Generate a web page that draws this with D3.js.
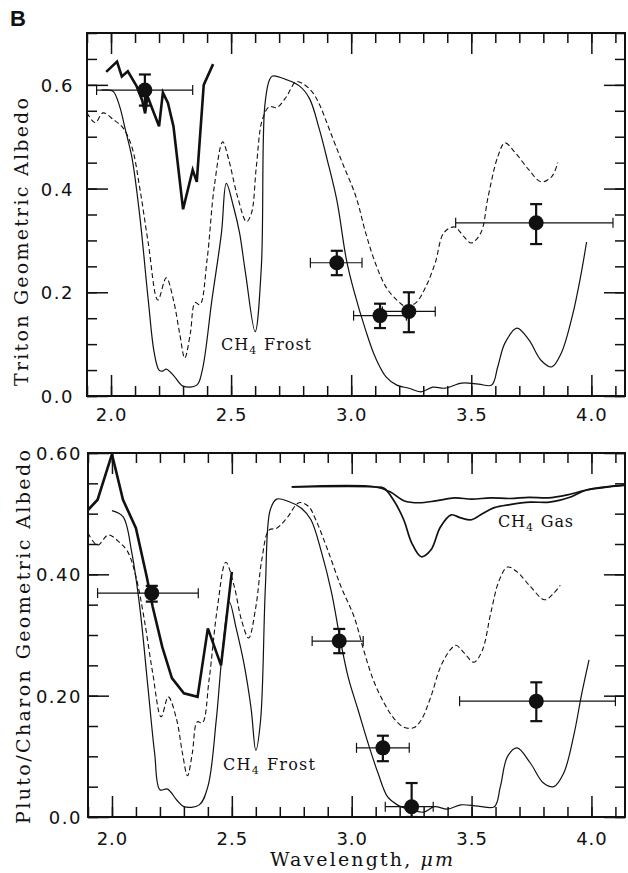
<!DOCTYPE html>
<html>
  <head>
    <meta charset="UTF-8">
    <style>
      body { margin: 0; background: #fff; }
      svg text { fill: #111; }
    </style>
  </head>
  <body>
    <svg width="628" height="873" id="svgid"></svg>

    <script src="https://cdnjs.cloudflare.com/ajax/libs/d3/7.8.5/d3.min.js"></script>
    <script>
      // wavelength (um), albedo pairs
      var tritonObs = [[1.98,0.625],[2.025,0.645],[2.045,0.616],[2.07,0.626],[2.107,0.597],[2.13,0.57],[2.142,0.545],
        [2.152,0.578],[2.175,0.55],[2.2,0.52],[2.216,0.585],[2.237,0.565],[2.26,0.52],[2.3,0.36],[2.34,0.436],
        [2.357,0.413],[2.386,0.60],[2.425,0.64]];
      var tritonFrost = [[1.96,0.59],[1.99,0.59],[2.01,0.587],[2.035,0.56],[2.06,0.513],[2.087,0.46],[2.12,0.346],
        [2.155,0.185],[2.18,0.083],[2.2,0.05],[2.215,0.048],[2.23,0.052],[2.265,0.037],[2.3,0.019],[2.357,0.021],
        [2.38,0.05],[2.42,0.185],[2.46,0.315],[2.48,0.41],[2.51,0.365],[2.535,0.315],[2.56,0.237],[2.6,0.124],
        [2.626,0.25],[2.64,0.558],[2.66,0.61],[2.673,0.617],[2.73,0.61],[2.784,0.598],[2.826,0.574],[2.867,0.515],
        [2.9,0.456],[2.94,0.378],[2.98,0.263],[3.01,0.205],[3.06,0.127],[3.1,0.075],[3.145,0.037],[3.19,0.021],
        [3.24,0.015],[3.29,0.008],[3.34,0.017],[3.39,0.015],[3.46,0.025],[3.53,0.023],[3.585,0.021],[3.61,0.056],
        [3.64,0.102],[3.69,0.131],[3.74,0.108],[3.79,0.069],[3.835,0.056],[3.875,0.083],[3.92,0.153],[3.955,0.23],
        [3.98,0.297]];
      var tritonDashed = [[1.9,0.546],[1.934,0.527],[1.967,0.546],[2.01,0.533],[2.05,0.517],[2.087,0.48],[2.12,0.40],
        [2.155,0.295],[2.195,0.185],[2.23,0.228],[2.26,0.185],[2.286,0.12],[2.307,0.073],[2.33,0.12],[2.35,0.18],
        [2.37,0.176],[2.4,0.263],[2.43,0.404],[2.465,0.49],[2.49,0.456],[2.527,0.384],[2.564,0.336],[2.585,0.353],
        [2.605,0.442],[2.63,0.533],[2.66,0.558],[2.69,0.556],[2.73,0.577],[2.77,0.606],[2.8,0.602],[2.84,0.585],
        [2.87,0.56],[2.91,0.513],[2.963,0.45],[3.02,0.384],[3.06,0.315],[3.1,0.257],[3.145,0.21],[3.19,0.185],
        [3.23,0.172],[3.27,0.18],[3.31,0.21],[3.35,0.257],[3.386,0.315],[3.43,0.326],[3.47,0.307],[3.5,0.295],
        [3.54,0.315],[3.57,0.384],[3.61,0.461],[3.64,0.488],[3.68,0.471],[3.74,0.436],[3.79,0.413],[3.835,0.423],
        [3.86,0.45]];
      // points: wavelength, albedo, albedo low/high, wavelength low/high
      var tritonPoints = [[2.141,0.59,0.56,0.62,1.94,2.34],[2.94,0.257,0.233,0.28,2.83,3.045],
        [3.12,0.155,0.131,0.178,3.01,3.23],[3.24,0.163,0.123,0.2,3.13,3.35],[3.77,0.334,0.293,0.37,3.435,4.09]];

      var plutoObs = [[1.9,0.506],[1.94,0.523],[2.0,0.598],[2.046,0.523],[2.1,0.476],[2.145,0.396],[2.17,0.346],
        [2.21,0.28],[2.25,0.229],[2.3,0.204],[2.357,0.198],[2.40,0.311],[2.455,0.25],[2.5,0.404]];
      var plutoFrost = [[2.0,0.505],[2.046,0.495],[2.083,0.435],[2.116,0.346],[2.15,0.214],[2.178,0.105],[2.2,0.045],
        [2.232,0.046],[2.27,0.028],[2.3,0.017],[2.364,0.02],[2.40,0.05],[2.435,0.16],[2.46,0.27],[2.49,0.354],
        [2.517,0.313],[2.55,0.254],[2.58,0.18],[2.6,0.11],[2.62,0.16],[2.64,0.38],[2.66,0.506],[2.687,0.524],
        [2.737,0.52],[2.79,0.509],[2.83,0.49],[2.875,0.435],[2.916,0.37],[2.95,0.297],[2.985,0.231],[3.027,0.176],
        [3.068,0.122],[3.11,0.072],[3.15,0.033],[3.19,0.02],[3.245,0.012],[3.3,0.008],[3.345,0.017],[3.4,0.013],
        [3.455,0.02],[3.525,0.018],[3.595,0.017],[3.62,0.05],[3.65,0.1],[3.69,0.114],[3.745,0.089],[3.8,0.056],
        [3.843,0.05],[3.884,0.072],[3.925,0.132],[3.96,0.204],[3.99,0.259]];
      var plutoDashed = [[1.9,0.468],[1.94,0.448],[1.985,0.465],[2.033,0.452],[2.066,0.437],[2.1,0.396],[2.135,0.325],
        [2.17,0.237],[2.205,0.165],[2.235,0.198],[2.27,0.16],[2.294,0.105],[2.315,0.068],[2.335,0.105],[2.356,0.157],
        [2.377,0.155],[2.405,0.226],[2.44,0.346],[2.475,0.42],[2.51,0.38],[2.54,0.325],[2.57,0.295],[2.6,0.346],
        [2.625,0.424],[2.655,0.473],[2.687,0.476],[2.73,0.493],[2.78,0.518],[2.82,0.512],[2.85,0.49],[2.9,0.44],
        [2.955,0.38],[3.01,0.33],[3.05,0.275],[3.09,0.226],[3.135,0.188],[3.175,0.163],[3.217,0.148],[3.258,0.147],
        [3.29,0.16],[3.33,0.198],[3.37,0.247],[3.41,0.275],[3.435,0.283],[3.47,0.27],[3.51,0.255],[3.545,0.275],
        [3.58,0.336],[3.615,0.39],[3.65,0.412],[3.69,0.404],[3.745,0.38],[3.805,0.358],[3.843,0.369],[3.87,0.382]];
      var gasShallow = [[2.75,0.544],[3.1,0.544],[3.16,0.536],[3.22,0.521],[3.28,0.518],[3.35,0.521],[3.43,0.526],
        [3.5,0.524],[3.58,0.526],[3.66,0.525],[3.74,0.527],[3.82,0.526],[3.9,0.531],[3.98,0.539],[4.14,0.547]];
      var gasDeep = [[2.75,0.544],[3.1,0.544],[3.135,0.542],[3.175,0.522],[3.217,0.49],[3.25,0.452],[3.29,0.429],
        [3.33,0.44],[3.37,0.478],[3.415,0.498],[3.455,0.493],[3.5,0.49],[3.545,0.50],[3.595,0.51],[3.66,0.515],
        [3.745,0.519],[3.825,0.519],[3.91,0.527],[3.98,0.539],[4.14,0.547]];
      var plutoPoints = [[2.166,0.369,0.355,0.381,1.94,2.36],[2.948,0.29,0.27,0.31,2.835,3.048],
        [3.13,0.114,0.092,0.134,3.02,3.24],[3.25,0.017,0.0,0.056,3.14,3.34],[3.77,0.191,0.158,0.222,3.45,4.1]];

      var xTicks = [2.0, 2.5, 3.0, 3.5, 4.0];
      var xTickLabels = ["2.0", "2.5", "3.0", "3.5", "4.0"];
      var tritonYTicks = [0, 0.2, 0.4, 0.6];
      var tritonYLabels = ["0.0", "0.2", "0.4", "0.6"];
      var plutoYTicks = [0, 0.2, 0.4, 0.6];
      var plutoYLabels = ["0.0", "0.20", "0.40", "0.60"];

      var svg = d3.select("svg");
      var numFont = "'DejaVu Sans', sans-serif";
      var serifFont = "'DejaVu Serif', serif";

      function range(a, b, step) {
        var out = [];
        for (var i = 0; a + i * step <= b + 1e-9; i++) out.push(+(a + i * step).toFixed(3));
        return out;
      }

      function drawPanel(p) {
        var x = d3.scaleLinear().domain([1.9, 4.14]).range([p.left, p.right]);
        var y = d3.scaleLinear().domain(p.ydomain).range([p.bottom, p.top]);
        var g = svg.append("g");
        var h = p.bottom - p.top, w = p.right - p.left;

        var clipId = "clip" + p.id;
        g.append("clipPath").attr("id", clipId).append("rect")
          .attr("x", p.left).attr("y", p.top).attr("width", w).attr("height", h);

        // ticks: minor and major, all pointing inward, on all four sides
        var minorX = range(1.9, 4.14, 0.1), minorY = range(0, p.ydomain[1], 0.05);
        function tickAxis(axis, transform, vals, size) {
          var a = g.append("g").attr("transform", transform)
            .call(axis.tickValues(vals).tickSize(size).tickFormat(""));
          a.select(".domain").remove();
          a.selectAll("line").attr("stroke", "#111").attr("stroke-width", 1.5);
        }
        tickAxis(d3.axisBottom(x), "translate(0," + p.bottom + ")", minorX, -10);
        tickAxis(d3.axisBottom(x), "translate(0," + p.bottom + ")", xTicks, -21);
        tickAxis(d3.axisTop(x), "translate(0," + p.top + ")", minorX, -10);
        tickAxis(d3.axisTop(x), "translate(0," + p.top + ")", xTicks, -21);
        tickAxis(d3.axisLeft(y), "translate(" + p.left + ",0)", minorY, -10);
        tickAxis(d3.axisLeft(y), "translate(" + p.left + ",0)", p.yticks, -21);
        tickAxis(d3.axisRight(y), "translate(" + p.right + ",0)", minorY, -10);
        tickAxis(d3.axisRight(y), "translate(" + p.right + ",0)", p.yticks, -21);

        // tick labels
        var xl = g.append("g").attr("transform", "translate(0," + p.bottom + ")")
          .call(d3.axisBottom(x).tickValues(xTicks).tickSize(0).tickPadding(0)
            .tickFormat(function(d, i) { return xTickLabels[i]; }));
        xl.select(".domain").remove();
        xl.selectAll("text").attr("y", p.xLabelDy).attr("dy", 0)
          .style("font-family", numFont).style("font-size", "18px").style("letter-spacing", "1px").attr("fill", "#111");

        var yl = g.append("g").attr("transform", "translate(" + p.left + ",0)")
          .call(d3.axisLeft(y).tickValues(p.yticks).tickSize(0).tickPadding(p.yPad)
            .tickFormat(function(d, i) { return p.ylabels[i]; }));
        yl.select(".domain").remove();
        yl.selectAll("text").attr("dy", "0.36em")
          .style("font-family", numFont).style("font-size", "18px").style("letter-spacing", "1.5px").attr("fill", "#111");

        // frame
        g.append("rect").attr("x", p.left).attr("y", p.top).attr("width", w).attr("height", h)
          .attr("fill", "none").attr("stroke", "#111").attr("stroke-width", 2);

        var line = d3.line().x(function(d) { return x(d[0]); }).y(function(d) { return y(d[1]); });
        var smooth = d3.line().curve(d3.curveCatmullRom.alpha(0.5))
          .x(function(d) { return x(d[0]); }).y(function(d) { return y(d[1]); });

        var curves = g.append("g").attr("clip-path", "url(#" + clipId + ")");
        curves.append("path").attr("d", smooth(p.dashed)).attr("fill", "none")
          .attr("stroke", "#111").attr("stroke-width", 1.1).attr("stroke-dasharray", "5,3");
        curves.append("path").attr("d", smooth(p.frost)).attr("fill", "none")
          .attr("stroke", "#111").attr("stroke-width", 1.2);
        (p.gas || []).forEach(function(s) {
          curves.append("path").attr("d", smooth(s)).attr("fill", "none")
            .attr("stroke", "#111").attr("stroke-width", 1.7);
        });
        curves.append("path").attr("d", line(p.obs)).attr("fill", "none")
          .attr("stroke", "#111").attr("stroke-width", 2.6).attr("stroke-linejoin", "miter");

        // data points with error bars
        var pts = curves.selectAll(".pt").data(p.points).enter().append("g").attr("class", "pt");
        pts.append("line").attr("x1", function(d) { return x(d[4]); }).attr("x2", function(d) { return x(d[5]); })
          .attr("y1", function(d) { return y(d[1]); }).attr("y2", function(d) { return y(d[1]); })
          .attr("stroke", "#111").attr("stroke-width", 1.2);
        [4, 5].forEach(function(k) {
          pts.append("line").attr("x1", function(d) { return x(d[k]); }).attr("x2", function(d) { return x(d[k]); })
            .attr("y1", function(d) { return y(d[1]) - 5; }).attr("y2", function(d) { return y(d[1]) + 5; })
            .attr("stroke", "#111").attr("stroke-width", 1.2);
        });
        pts.append("line").attr("x1", function(d) { return x(d[0]); }).attr("x2", function(d) { return x(d[0]); })
          .attr("y1", function(d) { return y(d[2]); }).attr("y2", function(d) { return y(d[3]); })
          .attr("stroke", "#111").attr("stroke-width", 2.2);
        [2, 3].forEach(function(k) {
          pts.append("line").attr("x1", function(d) { return x(d[0]) - 6; }).attr("x2", function(d) { return x(d[0]) + 6; })
            .attr("y1", function(d) { return y(d[k]); }).attr("y2", function(d) { return y(d[k]); })
            .attr("stroke", "#111").attr("stroke-width", 2.2);
        });
        pts.append("circle").attr("cx", function(d) { return x(d[0]); }).attr("cy", function(d) { return y(d[1]); })
          .attr("r", 7.5).attr("fill", "#111");

        // y axis title
        g.append("text").attr("transform", "translate(" + p.titleX + "," + p.titleY + ") rotate(-90)")
          .attr("text-anchor", "middle").attr("dy", "0.35em")
          .attr("textLength", p.titleLen).attr("lengthAdjust", "spacing")
          .style("font-family", serifFont).style("font-size", "19px").text(p.title);

        p.notes.forEach(function(n) {
          var t = g.append("text").attr("x", n.x).attr("y", n.y)
            .attr("textLength", n.len).attr("lengthAdjust", "spacing")
            .style("font-family", serifFont).style("font-size", "16px");
          t.append("tspan").text("CH");
          t.append("tspan").attr("dy", 4).style("font-size", "11px").text("4");
          t.append("tspan").attr("dy", -4).attr("dx", 7).text(n.label);
        });
      }

      drawPanel({
        id: "t", left: 87, right: 625, top: 33, bottom: 396, ydomain: [0, 0.7],
        yticks: tritonYTicks, ylabels: tritonYLabels, yPad: 13, xLabelDy: 25,
        obs: tritonObs, frost: tritonFrost, dashed: tritonDashed, points: tritonPoints,
        title: "Triton Geometric Albedo", titleX: 21, titleY: 242, titleLen: 288,
        notes: [{x: 221, y: 350, label: "Frost", len: 90}]
      });

      drawPanel({
        id: "p", left: 88, right: 625, top: 453, bottom: 817, ydomain: [0, 0.6],
        yticks: plutoYTicks, ylabels: plutoYLabels, yPad: 6, xLabelDy: 28,
        obs: plutoObs, frost: plutoFrost, dashed: plutoDashed, points: plutoPoints, gas: [gasShallow, gasDeep],
        title: "Pluto/Charon Geometric Albedo", titleX: 23, titleY: 637, titleLen: 374,
        notes: [{x: 223, y: 770, label: "Frost", len: 92}, {x: 498, y: 527, label: "Gas", len: 75}]
      });

      // x axis title
      var xt = svg.append("text").attr("x", 270).attr("y", 866)
        .attr("textLength", 183).attr("lengthAdjust", "spacing")
        .style("font-family", serifFont).style("font-size", "19px");
      xt.append("tspan").text("Wavelength, ");
      xt.append("tspan").style("font-style", "italic").text("\u03bcm");

      svg.append("text").attr("x", 10).attr("y", 26)
        .style("font-family", "'Liberation Sans', Arial, sans-serif").style("font-weight", "bold")
        .style("font-size", "22px").text("B");
    </script>
  </body>
</html>
